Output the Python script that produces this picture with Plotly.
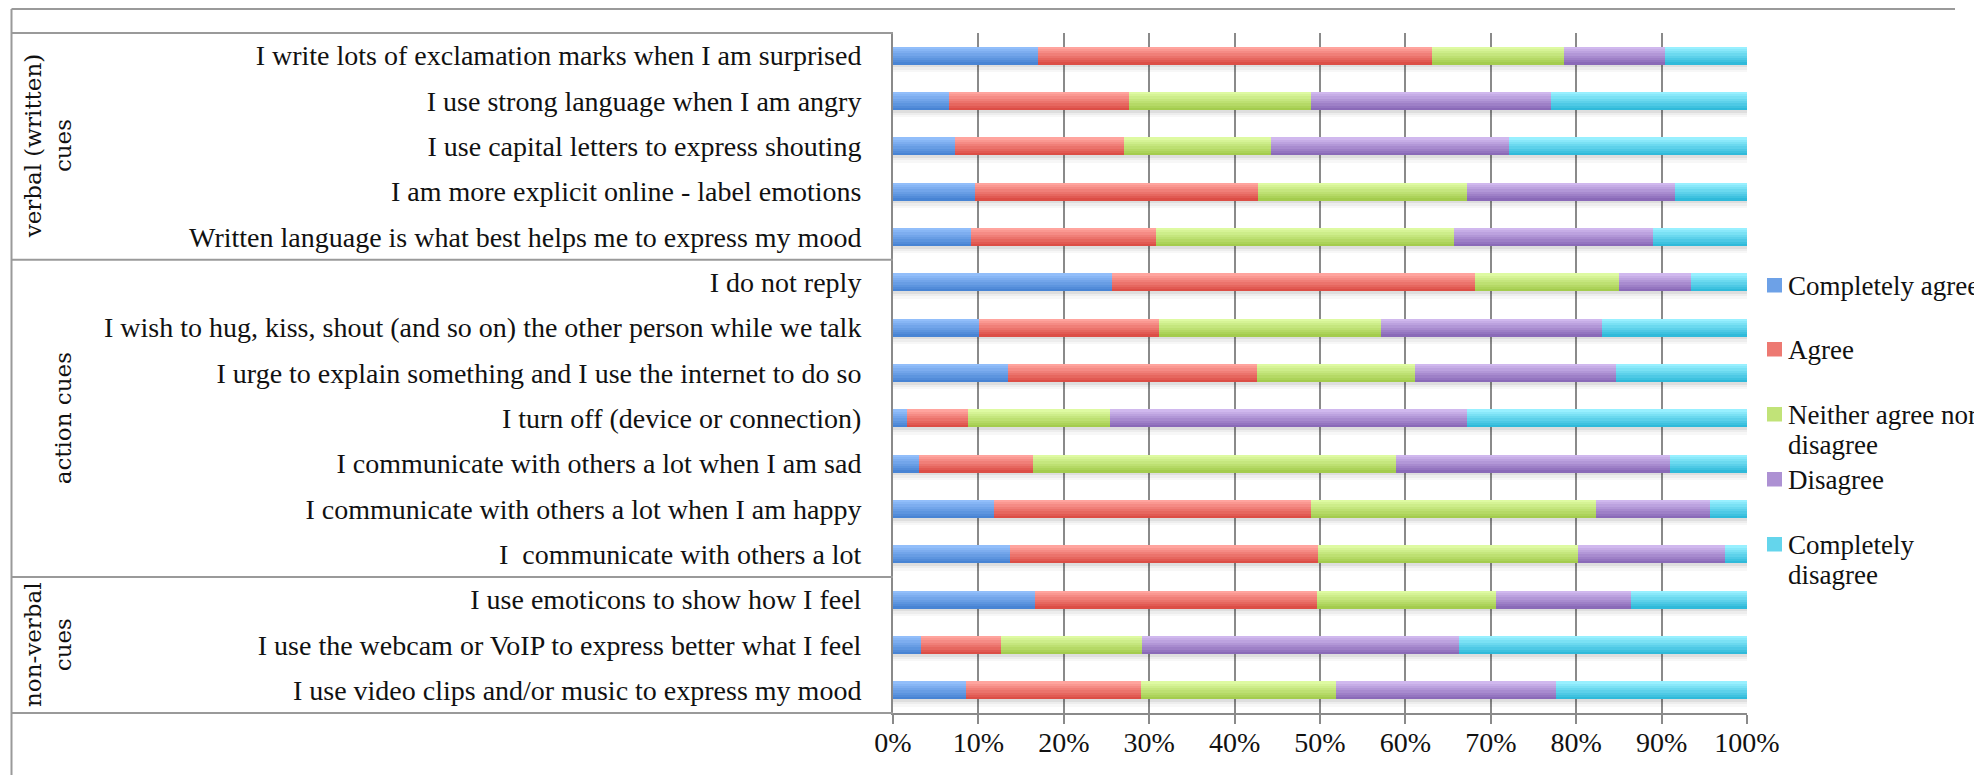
import plotly.graph_objects as go

categories = [
    "I write lots of exclamation marks when I am surprised",
    "I use strong language when I am angry",
    "I use capital letters to express shouting",
    "I am more explicit online - label emotions",
    "Written language is what best helps me to express my mood",
    "I do not reply",
    "I wish to hug, kiss, shout (and so on) the other person while we talk",
    "I urge to explain something and I use the internet to do so",
    "I turn off (device or connection)",
    "I communicate with others a lot when I am sad",
    "I communicate with others a lot when I am happy",
    "I  communicate with others a lot",
    "I use emoticons to show how I feel",
    "I use the webcam or VoIP to express better what I feel",
    "I use video clips and/or music to express my mood",
]

completely_agree = [17.0, 6.6, 7.3, 9.6, 9.1, 25.6, 10.1, 13.5, 1.6, 3.0, 11.8, 13.7, 16.6, 3.3, 8.5]
agree = [46.1, 21.0, 19.7, 33.1, 21.7, 42.5, 21.1, 29.1, 7.2, 13.4, 37.2, 36.1, 33.0, 9.3, 20.5]
neither = [15.5, 21.4, 17.3, 24.5, 34.9, 16.9, 25.9, 18.5, 16.6, 42.5, 33.3, 30.4, 21.0, 16.6, 22.9]
disagree = [11.8, 28.0, 27.8, 24.4, 23.3, 8.4, 25.9, 23.6, 41.8, 32.1, 13.4, 17.2, 15.8, 37.1, 25.7]
completely_disagree = [9.6, 23.0, 27.9, 8.4, 11.0, 6.6, 17.0, 15.3, 32.8, 9.0, 4.3, 2.6, 13.6, 33.7, 22.4]

series_names = ["Completely agree", "Agree", "Neither agree nor disagree", "Disagree", "Completely disagree"]
legend_lines = [["Completely agree"], ["Agree"], ["Neither agree nor", "disagree"], ["Disagree"], ["Completely", "disagree"]]
series_values = [completely_agree, agree, neither, disagree, completely_disagree]

groups = [("verbal (written)<br>cues", 0, 4), ("action cues", 5, 11), ("non-verbal<br>cues", 12, 14)]

# gradient colours (top, bottom)
grad = [
    ((146, 190, 250), (72, 132, 212)),
    ((255, 164, 158), (220, 78, 70)),
    ((222, 250, 162), (164, 204, 78)),
    ((208, 184, 238), (138, 106, 184)),
    ((152, 240, 255), (48, 186, 218)),
]

# pixel layout (page coordinates; the page body adds an 8px offset)
OFF = 8
W, H = 1982 - OFF, 775 - OFF
X0, X1 = 893 - OFF, 1747 - OFF
Y0, Y1 = 33 - OFF, 713 - OFF
PW, PH = X1 - X0, Y1 - Y0


def px(x):
    return (x - OFF - X0) / PW


def py(y):
    return (Y1 - (y - OFF)) / PH


fig = go.Figure()

BAR_W = 0.4
N = 8

# shadow under each bar
totals = [sum(v[i] for v in series_values) for i in range(len(categories))]
shadow_steps = [(0.0, 0.06, "rgba(0,0,0,0.13)"), (0.06, 0.11, "rgba(0,0,0,0.07)"), (0.11, 0.16, "rgba(0,0,0,0.03)")]
for a, b, c in shadow_steps:
    fig.add_trace(go.Bar(
        y=categories, x=totals, base=[0] * len(categories), orientation="h",
        width=b - a, offset=BAR_W / 2 + a, marker=dict(color=c, line=dict(width=0)),
        showlegend=False, hoverinfo="skip"))

cum = [0.0] * len(categories)
for s, vals in enumerate(series_values):
    top, bot = grad[s]
    for k in range(N):
        t = k / (N - 1)
        col = "rgb(%d,%d,%d)" % tuple(round(top[j] + (bot[j] - top[j]) * t) for j in range(3))
        fig.add_trace(go.Bar(
            y=categories, x=vals, base=list(cum), orientation="h",
            width=BAR_W / N + 0.002, offset=-BAR_W / 2 + k * BAR_W / N,
            marker=dict(color=col, line=dict(width=0)),
            name=series_names[s], showlegend=False,
            hovertemplate="%{y}<br>" + series_names[s] + ": %{x}%<extra></extra>"))
    cum = [cum[i] + vals[i] for i in range(len(categories))]

line_col = "#8a8a8a"
frame_col = "#9a9a9a"
shapes = []
# outer frame
shapes.append(dict(type="line", xref="paper", yref="paper", x0=px(11.5), x1=px(1955), y0=py(9), y1=py(9),
                   line=dict(color=frame_col, width=2)))
shapes.append(dict(type="line", xref="paper", yref="paper", x0=px(11.5), x1=px(11.5), y0=py(9), y1=py(780),
                   line=dict(color=frame_col, width=2)))
# label box horizontal separators
n = len(categories)
band = (713 - 33) / n
for y in [33, 33 + 5 * band, 33 + 12 * band, 713]:
    shapes.append(dict(type="line", xref="paper", yref="paper", x0=px(11.5), x1=px(893), y0=py(y), y1=py(y),
                       line=dict(color=frame_col, width=2)))

annotations = []
for text, i0, i1 in groups:
    yc = 33 + band * (i0 + i1 + 1) / 2
    xc = 48 if "<br>" in text else 63
    annotations.append(dict(text=text, xref="paper", yref="paper", x=px(xc), y=py(yc), showarrow=False,
                            textangle=-90, xanchor="center", yanchor="middle", align="center",
                            font=dict(family="DejaVu Serif", size=23, color="#111")))

# legend (manual)
leg_y = [285, 349, 414, 479, 544]
for s in range(5):
    top, bot = grad[s]
    yc = leg_y[s]
    shapes.append(dict(type="rect", xref="paper", yref="paper", x0=px(1767), x1=px(1782),
                       y0=py(yc - 7), y1=py(yc + 7.5), line=dict(width=0),
                       fillcolor="rgb(%d,%d,%d)" % tuple((top[j] + bot[j]) // 2 for j in range(3))))
    for li, ln in enumerate(legend_lines[s]):
        annotations.append(dict(text=ln, xref="paper", yref="paper", x=px(1786), y=py(yc + 1 + 30 * li),
                                showarrow=False, xanchor="left", yanchor="middle", align="left",
                                font=dict(family="Liberation Serif", size=27, color="#111")))

fig.update_layout(
    width=W, height=H,
    margin=dict(l=X0, r=W - X1, t=Y0, b=H - Y1, autoexpand=False),
    paper_bgcolor="white", plot_bgcolor="white",
    barmode="overlay", bargap=0,
    showlegend=False,
    shapes=shapes, annotations=annotations,
    xaxis=dict(range=[0, 100], dtick=10, ticksuffix="%", showgrid=True, gridcolor=line_col, gridwidth=2,
               zeroline=False, showline=True, linecolor=line_col, linewidth=2,
               ticks="outside", ticklen=9, tickwidth=2, tickcolor=line_col,
               tickfont=dict(family="Liberation Serif", size=28, color="#111"), ticklabelstandoff=-6,
               fixedrange=True),
    yaxis=dict(categoryorder="array", categoryarray=categories, autorange="reversed",
               showgrid=False, zeroline=False, showline=True, linecolor=line_col, linewidth=2,
               ticks="", ticklabelstandoff=24,
               tickfont=dict(family="Liberation Serif", size=28, color="#111"), fixedrange=True),
    font=dict(family="Liberation Serif"),
)

fig.write_html("out.html")
